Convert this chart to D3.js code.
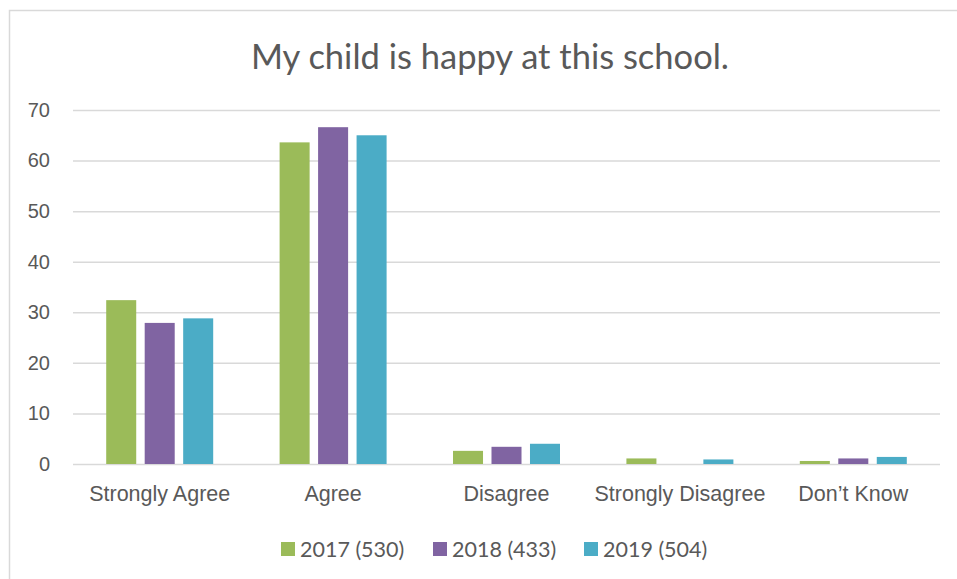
<!DOCTYPE html>
<meta charset="utf-8">
<head>
  <title>My child is happy at this school.</title>
</head>
<style>
body { margin: 0; background: #fff; }
svg { font-family: Lato, "Open Sans", sans-serif; }
.grid line { stroke: #d9d9d9; stroke-width: 1.5px; }
.grid path { display: none; }
.tick text { fill: #595959; }
</style>
<body>
<script src="https://d3js.org/d3.v7.min.js"></script>
<script>
var categories = ["Strongly Agree", "Agree", "Disagree", "Strongly Disagree", "Don\u2019t Know"]
var seriesNames = ["2017 (530)", "2018 (433)", "2019 (504)"]
var values2017 = [32.4, 63.6, 2.6, 1.1, 0.6]
var values2018 = [27.9, 66.6, 3.4, 0, 1.1]
var values2019 = [28.8, 65.0, 4.0, 0.9, 1.4]
var yTicks = [0, 10, 20, 30, 40, 50, 60, 70]
var colors = ["#9bbb59", "#8064a2", "#4bacc6"]

var width = 957, height = 579
var margin = {top: 110, right: 17, bottom: 115, left: 73}

var svg = d3.select("body").append("svg")
    .attr("width", width)
    .attr("height", height)

// chart frame
svg.append("rect")
    .attr("x", 9.5).attr("y", 10.5)
    .attr("width", width + 10).attr("height", height + 10)
    .attr("fill", "#fff")
    .attr("stroke", "#d9d9d9")
    .attr("stroke-width", 1.5)

var plotW = width - margin.left - margin.right,
    plotH = height - margin.top - margin.bottom

var g = svg.append("g")
    .attr("transform", "translate(" + margin.left + "," + margin.top + ")")

var x0 = d3.scaleBand()
    .domain(categories)
    .range([0, plotW])
    .paddingInner(0.383)
    .paddingOuter(0.383 / 2)

var x1 = d3.scaleBand()
    .domain(seriesNames)
    .range([0, x0.bandwidth()])
    .paddingInner(0.22)

var y = d3.scaleLinear()
    .domain([0, 70])
    .range([plotH, 0])

// gridlines + y labels
var yAxis = g.append("g")
    .attr("class", "grid")
    .call(d3.axisLeft(y).tickValues(yTicks).tickSize(-plotW).tickPadding(23))
yAxis.selectAll(".tick text").style("font-size", "20px")

var table = categories.map(function(c, i) {
  return {cat: c, vals: [values2017[i], values2018[i], values2019[i]]}
})

var group = g.selectAll(".cat")
    .data(table)
  .enter().append("g")
    .attr("class", "cat")
    .attr("transform", function(d) { return "translate(" + x0(d.cat) + ",0)" })

group.selectAll("rect")
    .data(function(d) { return d.vals.map(function(v, j) { return {s: seriesNames[j], v: v, j: j} }) })
  .enter().append("rect")
    .filter(function(d) { return d.v > 0 })
    .attr("x", function(d) { return x1(d.s) })
    .attr("y", function(d) { return y(d.v) })
    .attr("width", x1.bandwidth())
    .attr("height", function(d) { return plotH - y(d.v) })
    .attr("fill", function(d) { return colors[d.j] })

// x labels
g.append("g")
    .attr("transform", "translate(0," + plotH + ")")
    .call(d3.axisBottom(x0).tickSize(0).tickPadding(22))
    .call(function(a) { a.select(".domain").remove() })
    .selectAll("text")
    .style("font-size", "21.5px")

// title
svg.append("text")
    .attr("x", 490).attr("y", 69)
    .attr("text-anchor", "middle")
    .attr("fill", "#595959")
    .style("font-size", "34.5px")
    .text("My child is happy at this school.")

// legend
var legendX = [281, 433, 584]
var legend = svg.selectAll(".legend")
    .data(seriesNames)
  .enter().append("g")
    .attr("class", "legend")
    .attr("transform", function(d, i) { return "translate(" + legendX[i] + ",542)" })

legend.append("rect")
    .attr("width", 14).attr("height", 14)
    .attr("fill", function(d, i) { return colors[i] })

legend.append("text")
    .attr("x", 19).attr("y", 15)
    .attr("fill", "#595959")
    .style("font-size", "21.5px")
    .text(function(d) { return d })
</script>
</body>
</html>
